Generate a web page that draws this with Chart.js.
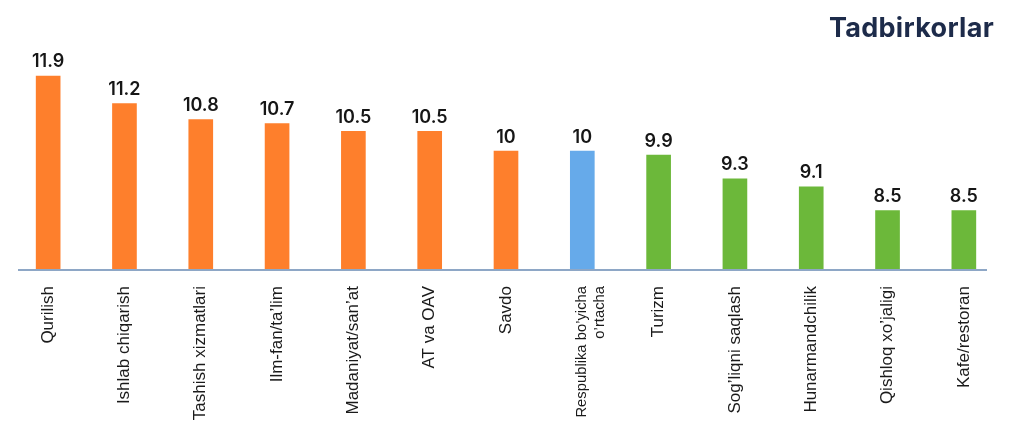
<!DOCTYPE html>
<html>
<head>
<meta charset="utf-8">
<script src="https://cdn.jsdelivr.net/npm/chart.js@4.4.0/dist/chart.umd.min.js"></script>
<style>
  html, body { margin:0; padding:0; background:#fff; }
  #wrap { position:relative; width:1024px; height:431px; }
  #ttl { position:absolute; right:30px; top:11px; font:700 27px Inter, 'Noto Sans', sans-serif; color:#1d2b4a; letter-spacing:0.3px; }
</style>
</head>
<body>
<div id="wrap">
  <canvas id="c"></canvas>
  <div id="ttl">Tadbirkorlar</div>
</div>
<script>
// kategoriyalar va qiymatlar
const categories = [
  'Qurilish', 'Ishlab chiqarish', 'Tashish xizmatlari', 'Ilm-fan/ta’lim',
  'Madaniyat/san’at', 'AT va OAV', 'Savdo', ['Respublika bo’yicha', 'o’rtacha'],
  'Turizm', 'Sog’liqni saqlash', 'Hunarmandchilik', 'Qishloq xo’jaligi', 'Kafe/restoran'
];
const values = [11.9, 11.2, 10.8, 10.7, 10.5, 10.5, 10, 10, 9.9, 9.3, 9.1, 8.5, 8.5];
const groups = ['o','o','o','o','o','o','o','avg','g','g','g','g','g'];
const yMin = 7, yMax = 12;

const colorOf = { o:'#fe7f2c', avg:'#66aaea', g:'#6cb83a' };
const tickFamily = '"Liberation Sans", Arial, sans-serif';

const valueLabels = {
  id:'valueLabels',
  afterDatasetsDraw(chart) {
    const ctx = chart.ctx;
    const meta = chart.getDatasetMeta(0);
    ctx.save();
    ctx.font = '600 18px Inter, sans-serif';
    ctx.fillStyle = '#161616';
    ctx.textAlign = 'center';
    ctx.textBaseline = 'bottom';
    meta.data.forEach((bar, i) => ctx.fillText(String(values[i]), bar.x, bar.y - 5));
    ctx.restore();
  }
};

const axisLine = {
  id:'axisLine',
  afterDatasetsDraw(chart) {
    const { ctx, chartArea:a } = chart;
    const y = chart.scales.y.getPixelForValue(yMin);
    ctx.save();
    ctx.strokeStyle = '#8ea7c6';
    ctx.lineWidth = 2;
    ctx.beginPath();
    ctx.moveTo(a.left + 8, y);
    ctx.lineTo(a.right - 15, y);
    ctx.stroke();
    ctx.restore();
  }
};

new Chart(document.getElementById('c'), {
  type:'bar',
  data:{ labels: categories, datasets:[{
    data: values,
    backgroundColor: groups.map(g => colorOf[g]),
    barThickness: 24,
    borderWidth: 0
  }]},
  options:{
    responsive:true, maintainAspectRatio:false, animation:false,
    layout:{ padding:{ top:72, left:10, right:22, bottom:0 } },
    plugins:{ legend:{display:false}, tooltip:{enabled:false} },
    scales:{
      x:{
        grid:{display:false, drawTicks:false},
        border:{display:false},
        ticks:{
          color:'#1a1a1a', padding:16, minRotation:90, maxRotation:90, autoSkip:false,
          font: c => c.index === 7 ? {family:tickFamily, size:14.8} : {family:tickFamily, size:17}
        },
        afterFit: s => { s.height = 161; }
      },
      y:{ display:false, min:yMin, max:yMax }
    }
  },
  plugins:[valueLabels, axisLine]
});
</script>
</body>
</html>
